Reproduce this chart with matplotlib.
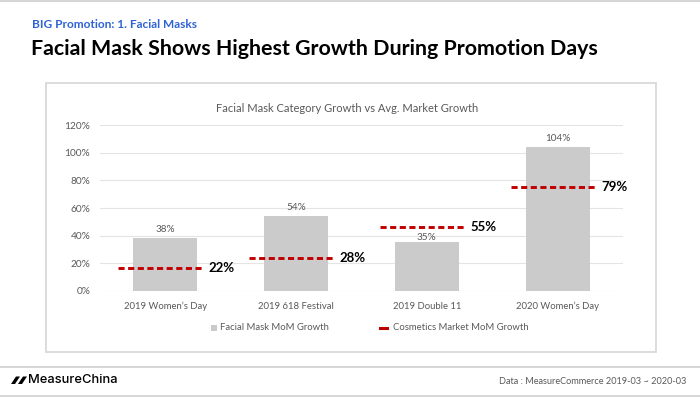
import matplotlib
matplotlib.use("Agg")
import matplotlib.pyplot as plt
from matplotlib.patches import Rectangle, Polygon
from matplotlib.lines import Line2D

# data
categories = ["2019 Women\u2019s Day", "2019 618 Festival", "2019 Double 11", "2020 Women\u2019s Day"]
mask_growth = [0.38, 0.54, 0.35, 1.04]
mask_labels = ["38%", "54%", "35%", "104%"]
# the dashed market lines sit a bit lower in the source than their printed values
market_line = [0.167, 0.237, 0.46, 0.755]
market_labels = ["22%", "28%", "55%", "79%"]
yticks = [0, 0.2, 0.4, 0.6, 0.8, 1.0, 1.2]

W, H = 700, 397
GRAY_TXT = "#595959"
BAR_COL = "#cbcbcb"
RED = "#c00000"


def px(x, y):
    return (x / W, 1 - y / H)


fig = plt.figure(figsize=(W / 100, H / 100), dpi=100)
fig.patch.set_facecolor("white")

# page decoration
fig.add_artist(Line2D([0, 1], [1 - 1 / H] * 2, color="#d6d6d6", lw=1.5))
fig.text(*px(32, 25), "BIG Promotion: 1. Facial Masks", color="#2f62d6",
         fontsize=8.6, fontweight="bold", family="Lato", va="center")
fig.text(*px(31, 49), "Facial Mask Shows Highest Growth During Promotion Days", color="black",
         fontsize=15.4, fontweight="bold", family="Lato", va="center")

x0, y0 = px(45.7, 351.7)
x1, y1 = px(656, 83.3)
fig.add_artist(Rectangle((x0, y0), x1 - x0, y1 - y0, transform=fig.transFigure,
                         fill=False, edgecolor="#d9d9d9", lw=1.3))

# chart
ax = fig.add_axes([100 / W, 1 - 290.7 / H, 523 / W, (290.7 - 125.3) / H])
xs = range(len(categories))
bars = ax.bar(xs, mask_growth, width=0.49, color=BAR_COL, zorder=2)
for i, (b, lab) in enumerate(zip(bars, mask_labels)):
    # the 35% label is nudged down in the source so it clears the red line
    off = 0.5 if i == 2 else 3
    ax.annotate(lab, (b.get_x() + b.get_width() / 2, b.get_height()), xytext=(0, off),
                textcoords="offset points", ha="center", va="bottom",
                fontsize=7.2, color=GRAY_TXT, family="Lato")

for i, (v, lab) in enumerate(zip(market_line, market_labels)):
    ax.plot([i - 0.36, i + 0.29], [v, v], color=RED, lw=2.1, linestyle=(0, (2.1, 1.2)),
            zorder=3, dash_capstyle="butt")
    ax.annotate(lab, (i + 0.29, v), xytext=(4, 0), textcoords="offset points",
                ha="left", va="center", fontsize=9.5, fontweight="bold", color="black",
                family="Lato")

ax.set_xlim(-0.5, 3.5)
ax.set_ylim(0, 1.2)
ax.set_yticks(yticks)
ax.set_yticklabels([f"{int(round(t * 100))}%" for t in yticks])
ax.set_xticks(list(xs))
ax.set_xticklabels(categories)
ax.tick_params(length=0, labelcolor=GRAY_TXT)
ax.tick_params(axis="y", pad=7, labelsize=7.3)
ax.tick_params(axis="x", pad=8, labelsize=6.8)
for t in ax.get_xticklabels() + ax.get_yticklabels():
    t.set_family("Lato")
ax.grid(axis="y", color="#e4e4e4", lw=0.8, zorder=0)
for s in ax.spines.values():
    s.set_visible(False)
ax.set_facecolor("none")

fig.text(*px(347, 108), "Facial Mask Category Growth vs Avg. Market Growth", color=GRAY_TXT,
         fontsize=8.0, family="Lato", ha="center", va="center")

# legend
fig.add_artist(Rectangle(px(211, 331), 6 / W, 6 / H, transform=fig.transFigure,
                         color=BAR_COL, lw=0))
fig.text(*px(220, 328), "Facial Mask MoM Growth", color=GRAY_TXT, fontsize=6.8,
         family="Lato", va="center")
fig.add_artist(Line2D([380 / W, 387 / W], [1 - 328 / H] * 2, color=RED, lw=2.2))
fig.text(*px(393, 328), "Cosmetics Market MoM Growth", color=GRAY_TXT, fontsize=6.8,
         family="Lato", va="center")

# footer
fig.add_artist(Line2D([0, 1], [1 - 366.7 / H] * 2, color="#cfcfcf", lw=1.2))
fig.add_artist(Line2D([0, 1], [1 - 396 / H] * 2, color="#cfcfcf", lw=1.2))
for dx in (0, 7):
    fig.add_artist(Polygon([px(11 + dx, 384), px(16 + dx, 376.5), px(20 + dx, 376.5),
                            px(15 + dx, 384)], closed=True, transform=fig.transFigure,
                           color="black", lw=0))
fig.text(*px(28, 380), "MeasureChina", color="black", fontsize=9.3, family="Inter",
         fontweight="medium", va="center")
fig.text(*px(686, 381), "Data : MeasureCommerce 2019-03 ~ 2020-03", color=GRAY_TXT,
         fontsize=6.6, family="Lato", ha="right", va="center")

fig.savefig("out.png", dpi=100, facecolor="white")
